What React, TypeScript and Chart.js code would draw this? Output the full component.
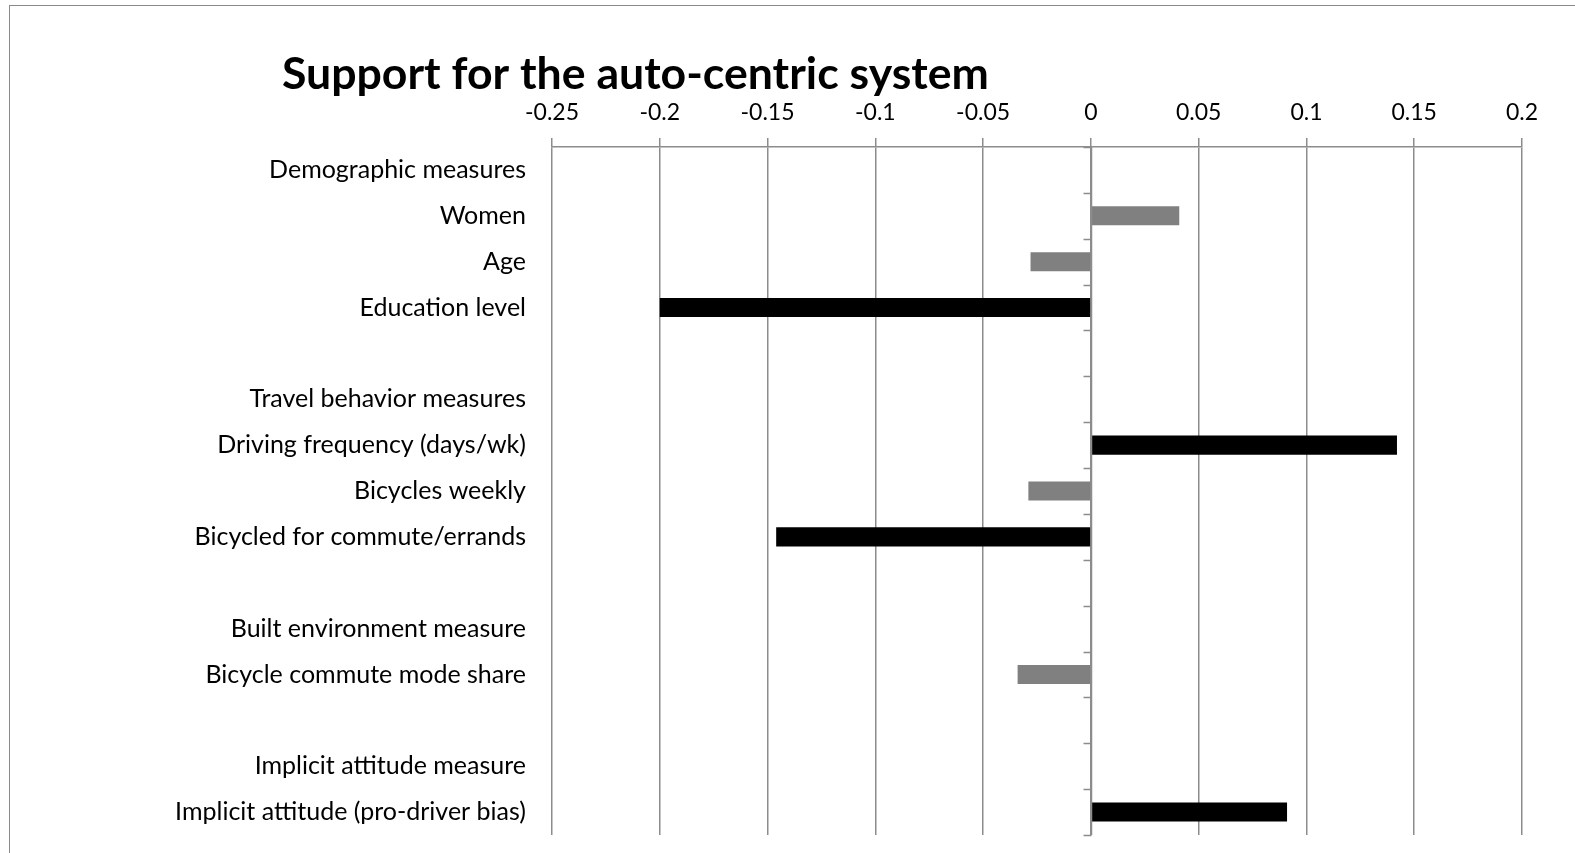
import React, { useEffect, useRef } from 'react';
import { Chart, registerables } from 'chart.js';

Chart.register(...registerables);

const TITLE = 'Support for the auto-centric system';

const categories = [
  'Demographic measures',
  'Women',
  'Age',
  'Education level',
  '',
  'Travel behavior measures',
  'Driving frequency (days/wk)',
  'Bicycles weekly',
  'Bicycled for commute/errands',
  '',
  'Built environment measure',
  'Bicycle commute mode share',
  '',
  'Implicit attitude measure',
  'Implicit attitude (pro-driver bias)',
];

const coefficients = [null, 0.041, -0.028, -0.2, null, null, 0.142, -0.029, -0.146, null, null, -0.034, null, null, 0.091];

const significant = [false, false, false, true, false, false, true, false, true, false, false, false, false, false, true];

const xTickValues = [-0.25, -0.2, -0.15, -0.1, -0.05, 0, 0.05, 0.1, 0.15, 0.2];
const xTickLabels = ['-0.25', '-0.2', '-0.15', '-0.1', '-0.05', '0', '0.05', '0.1', '0.15', '0.2'];

const GRID = '#8c8c8c';
const FONT = 'Lato';

const zeroAxisPlugin = {
  id: 'zeroAxis',
  afterDatasetsDraw(chart: any) {
    const { ctx, chartArea, scales } = chart;
    const x0 = Math.round(scales.x.getPixelForValue(0)) + 0.5;
    const yScale = scales.y;
    ctx.save();
    ctx.strokeStyle = GRID;
    ctx.lineWidth = 1.5;
    ctx.beginPath();
    ctx.moveTo(x0, chartArea.top);
    ctx.lineTo(x0, chartArea.bottom);
    const n = categories.length;
    for (let i = 0; i <= n; i++) {
      const y = Math.round(yScale.getPixelForValue(i - 0.5)) + 0.5;
      ctx.moveTo(x0 - 8, y);
      ctx.lineTo(x0, y);
    }
    ctx.stroke();
    ctx.restore();
  },
};

const titlePlugin = {
  id: 'leftTitle',
  afterDraw(chart: any) {
    const { ctx } = chart;
    ctx.save();
    ctx.font = `bold 44.6px ${FONT}`;
    ctx.fillStyle = '#000';
    ctx.textAlign = 'left';
    ctx.textBaseline = 'alphabetic';
    ctx.fillText(TITLE, 282, 89);
    ctx.restore();
  },
};

export default function App() {
  const canvasRef = useRef<HTMLCanvasElement | null>(null);

  useEffect(() => {
    const canvas = canvasRef.current;
    if (!canvas) return;
    const chart = new Chart(canvas, {
      type: 'bar',
      data: {
        labels: categories,
        datasets: [
          {
            data: coefficients as any,
            backgroundColor: significant.map((s) => (s ? '#000000' : '#808080')),
            borderWidth: 0,
            categoryPercentage: 1,
            barPercentage: 0.415,
          },
        ],
      },
      options: {
        indexAxis: 'y',
        animation: false,
        responsive: false,
        maintainAspectRatio: false,
        layout: { padding: { top: 0, left: 0, right: 53, bottom: 18 } },
        plugins: {
          legend: { display: false },
          title: { display: false },
          tooltip: { enabled: false },
        },
        scales: {
          x: {
            type: 'linear',
            position: 'top',
            min: -0.25,
            max: 0.2,
            afterBuildTicks: (scale: any) => {
              scale.ticks = xTickValues.map((v) => ({ value: v }));
            },
            afterFit: (scale: any) => {
              scale.height = 147;
              scale.paddingLeft = 0;
              scale.paddingRight = 0;
            },
            ticks: {
              callback: (_v: any, i: number) => xTickLabels[i],
              color: '#000',
              font: { family: FONT, size: 23 },
              padding: 12,
              maxRotation: 0,
              autoSkip: false,
            },
            grid: {
              color: GRID,
              lineWidth: 1.5,
              drawTicks: true,
              tickLength: 9,
              tickColor: GRID,
            },
            border: { display: true, color: GRID, width: 1.5 },
          },
          y: {
            type: 'category',
            position: 'left',
            afterFit: (scale: any) => {
              scale.width = 552;
              scale.paddingTop = 0;
              scale.paddingBottom = 0;
            },
            ticks: {
              color: '#000',
              font: { family: FONT, size: 25 },
              padding: 26,
              autoSkip: false,
            },
            grid: { display: false, drawTicks: false },
            border: { display: false },
          },
        },
      },
      plugins: [zeroAxisPlugin, titlePlugin],
    });
    return () => chart.destroy();
  }, []);

  return (
    <div style={{ position: 'fixed', left: 0, top: 0, width: 1575, height: 853, overflow: 'hidden', background: '#fff' }}>
      <div
        style={{
          position: 'absolute',
          left: 9,
          top: 5,
          width: 1600,
          height: 900,
          border: '1.5px solid #8a8a8a',
        }}
      />
      <canvas ref={canvasRef} width={1575} height={853} style={{ position: 'absolute', left: 0, top: 0, width: 1575, height: 853 }} />
    </div>
  );
}
